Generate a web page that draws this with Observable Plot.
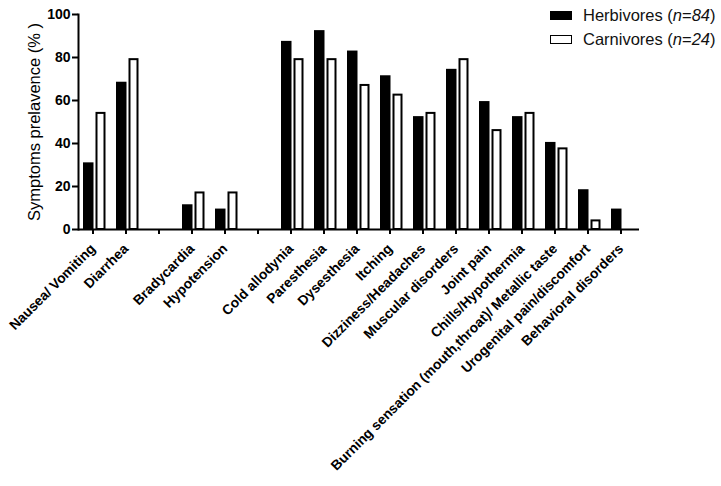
<!DOCTYPE html>
<html>
<head>
<meta charset="utf-8">
<script src="https://cdn.jsdelivr.net/npm/d3@7"></script>
<script src="https://cdn.jsdelivr.net/npm/@observablehq/plot@0.6"></script>
<style>
  html, body { margin: 0; padding: 0; background: white; }
  #wrap { position: relative; width: 721px; height: 486px; font-family: "Liberation Sans", Arial, sans-serif; }
  #wrap svg { position: absolute; left: 0; top: 0; }
  .axis-bold text { font-weight: bold; }
  #legend { position: absolute; left: 550px; top: 3px; font-size: 16.5px; color: #111; }
  #legend .row { display: flex; align-items: center; height: 24px; white-space: nowrap; }
  #legend .sw { width: 22px; height: 9px; margin-right: 11px; box-sizing: border-box; border: 1.5px solid #000; }
</style>
</head>
<body>
<div id="wrap"></div>
<script>
// Categories (x), with empty slots separating the groups
const categories = [
  "Nausea/ Vomiting", "Diarrhea",
  "Bradycardia", "Hypotension",
  "Cold allodynia", "Paresthesia", "Dysesthesia", "Itching",
  "Dizziness/Headaches", "Muscular disorders", "Joint pain",
  "Chills/Hypothermia", "Burning sensation (mouth,throat)/ Metallic taste",
  "Urogenital pain/discomfort", "Behavioral disorders"
];
const xSlots = [
  "Nausea/ Vomiting", "Diarrhea", "gap1",
  "Bradycardia", "Hypotension", "gap2",
  "Cold allodynia", "Paresthesia", "Dysesthesia", "Itching",
  "Dizziness/Headaches", "Muscular disorders", "Joint pain",
  "Chills/Hypothermia", "Burning sensation (mouth,throat)/ Metallic taste",
  "Urogenital pain/discomfort", "Behavioral disorders"
];
// Series values (%)
const herbivores = [31, 68.5, 11.5, 9.5, 87.5, 92.5, 83, 71.5, 52.5, 74.5, 59.5, 52.5, 40.5, 18.5, 9.5];
const carnivores = [54, 79, 17, 17, 79, 79, 67, 62.5, 54, 79, 46, 54, 37.5, 4, 0];
const yTicks = [0, 20, 40, 60, 80, 100];
const seriesNames = ["Herbivores", "Carnivores"];
const seriesN = [84, 24];

const data = categories.map((c, i) => ({c, h: herbivores[i], k: carnivores[i]}));

const chart = Plot.plot({
  width: 721,
  height: 486,
  marginLeft: 78,
  marginRight: 82,
  marginTop: 14,
  marginBottom: 257,
  style: {fontFamily: "'Liberation Sans', Arial, sans-serif", color: "#000", background: "transparent", overflow: "visible"},
  x: {domain: xSlots, padding: 0, label: null},
  y: {domain: [0, 100], label: null},
  marks: [
    Plot.barY(data, {x: "c", y: "h", fill: "#000", insetLeft: 5, insetRight: 17.5}),
    Plot.barY(data.filter(d => d.k > 0), {x: "c", y: "k", fill: "#fff", stroke: "#000", strokeWidth: 2, insetLeft: 18.5, insetRight: 6.5}),
    Plot.axisY({ticks: yTicks, tickSize: 6, tickPadding: 2, fontSize: 14, strokeWidth: 2, label: null, className: "axis-bold"}),
    Plot.frame({anchor: "left", strokeWidth: 2}),
    Plot.ruleY([0], {strokeWidth: 2}),
    Plot.axisX({tickSize: 5, tickPadding: 12, dx: -2, tickRotate: -45, fontSize: 13.8, strokeWidth: 2, label: null,
      className: "axis-bold",
      tickFormat: d => d.startsWith("gap") ? "" : d}),
    Plot.text(["Symptoms prelavence (% )"], {frameAnchor: "left", textAnchor: "middle", rotate: -90, dx: -44, fontSize: 16.5, text: d => d})
  ]
});

const wrap = document.getElementById("wrap");
wrap.appendChild(chart);

const legend = document.createElement("div");
legend.id = "legend";
seriesNames.forEach((name, i) => {
  const row = document.createElement("div");
  row.className = "row";
  const sw = document.createElement("span");
  sw.className = "sw";
  sw.style.background = i === 0 ? "#000" : "#fff";
  row.appendChild(sw);
  const t = document.createElement("span");
  t.innerHTML = `${name} (<i>n</i>=<i>${seriesN[i]}</i>)`;
  row.appendChild(t);
  legend.appendChild(row);
});
wrap.appendChild(legend);
</script>
</body>
</html>
